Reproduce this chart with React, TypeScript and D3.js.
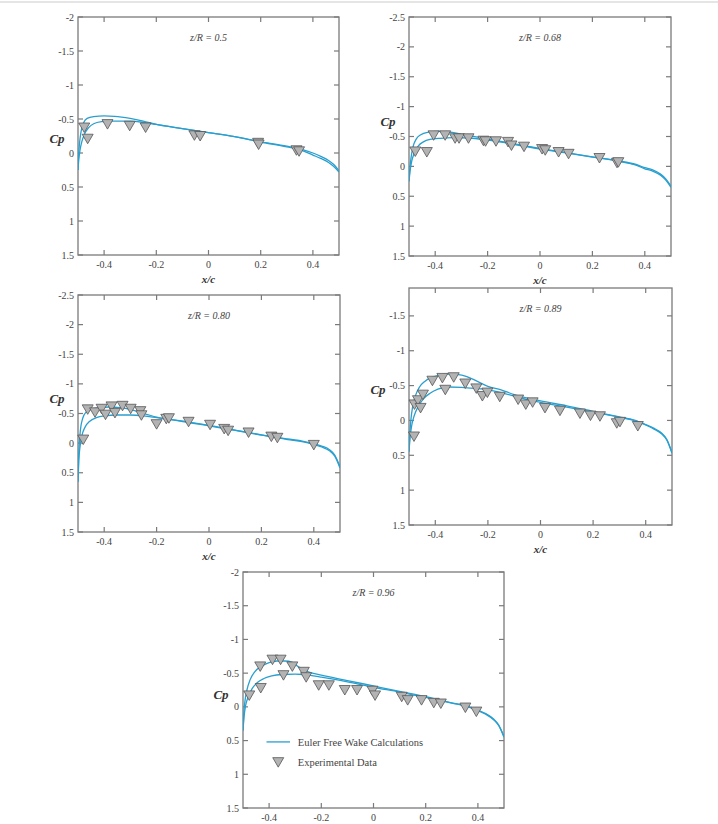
import React from "react";
import * as d3 from "d3";

// experimental points [x/c, Cp]
const exp050 = [
  [-0.476, -0.375], [-0.463, -0.21], [-0.387, -0.425], [-0.302, -0.4], [-0.241, -0.375],
  [-0.054, -0.26], [-0.032, -0.25], [0.19, -0.15], [0.192, -0.125], [0.337, -0.04], [0.347, -0.025],
];
const exp068 = [
  [-0.476, -0.25], [-0.432, -0.24], [-0.406, -0.52], [-0.362, -0.52], [-0.324, -0.47],
  [-0.309, -0.47], [-0.273, -0.47], [-0.216, -0.43], [-0.208, -0.42], [-0.168, -0.42],
  [-0.122, -0.41], [-0.109, -0.35], [-0.061, -0.33], [0.008, -0.29], [0.02, -0.27],
  [0.071, -0.24], [0.109, -0.21], [0.227, -0.14], [0.294, -0.06], [0.299, -0.07],
];
const exp080 = [
  [-0.48, -0.06], [-0.463, -0.57], [-0.435, -0.52], [-0.41, -0.58], [-0.395, -0.48],
  [-0.372, -0.62], [-0.359, -0.51], [-0.33, -0.63], [-0.299, -0.58], [-0.262, -0.54],
  [-0.258, -0.47], [-0.2, -0.32], [-0.163, -0.41], [-0.153, -0.42], [-0.078, -0.36],
  [0.004, -0.31], [0.058, -0.24], [0.073, -0.21], [0.151, -0.18], [0.238, -0.11],
  [0.261, -0.09], [0.4, 0.03],
];
const exp089 = [
  [-0.481, 0.23], [-0.479, -0.23], [-0.466, -0.29], [-0.456, -0.18], [-0.447, -0.37],
  [-0.411, -0.57], [-0.373, -0.61], [-0.362, -0.44], [-0.33, -0.62], [-0.286, -0.53],
  [-0.244, -0.46], [-0.221, -0.35], [-0.202, -0.4], [-0.155, -0.34], [-0.085, -0.3],
  [-0.056, -0.23], [-0.03, -0.26], [0.017, -0.18], [0.074, -0.14], [0.15, -0.1],
  [0.19, -0.07], [0.226, -0.06], [0.29, 0.04], [0.302, 0.02], [0.37, 0.08],
];
const exp096 = [
  [-0.476, -0.17], [-0.434, -0.6], [-0.432, -0.28], [-0.387, -0.7], [-0.356, -0.7],
  [-0.345, -0.47], [-0.311, -0.6], [-0.267, -0.52], [-0.258, -0.44], [-0.21, -0.32],
  [-0.171, -0.32], [-0.11, -0.25], [-0.063, -0.25], [-0.004, -0.24], [0.006, -0.17],
  [0.108, -0.15], [0.131, -0.1], [0.184, -0.1], [0.231, -0.06], [0.258, -0.05],
  [0.352, 0.01], [0.394, 0.07],
];

// Euler free wake calculations, upper / lower surface [x/c, Cp]
const upper050 = [
  [-0.5, 0.25], [-0.498, 0.05], [-0.494, -0.15], [-0.488, -0.32], [-0.478, -0.45], [-0.465, -0.51],
  [-0.44, -0.535], [-0.4, -0.545], [-0.36, -0.54], [-0.3, -0.51], [-0.25, -0.47], [-0.2, -0.42],
  [-0.1, -0.36], [0, -0.3], [0.1, -0.24], [0.2, -0.165], [0.3, -0.1], [0.36, -0.05], [0.4, 0.0],
  [0.43, 0.05], [0.46, 0.11], [0.48, 0.17], [0.5, 0.26],
];
const lower050 = [
  [-0.5, 0.25], [-0.497, 0.1], [-0.492, -0.05], [-0.485, -0.17], [-0.475, -0.28], [-0.46, -0.37],
  [-0.44, -0.43], [-0.41, -0.46], [-0.37, -0.47], [-0.3, -0.47], [-0.25, -0.45], [-0.2, -0.42],
  [-0.1, -0.36], [0, -0.3], [0.1, -0.24], [0.2, -0.16], [0.3, -0.09], [0.36, -0.035], [0.4, 0.03],
  [0.43, 0.08], [0.46, 0.14], [0.48, 0.2], [0.5, 0.28],
];
const upper068 = [
  [-0.5, 0.25], [-0.497, 0.05], [-0.492, -0.15], [-0.485, -0.32], [-0.472, -0.46], [-0.455, -0.53],
  [-0.43, -0.57], [-0.39, -0.585], [-0.35, -0.575], [-0.3, -0.54], [-0.2, -0.46], [-0.1, -0.38],
  [0, -0.3], [0.1, -0.23], [0.2, -0.16], [0.3, -0.09], [0.36, -0.04], [0.4, 0.02], [0.43, 0.06],
  [0.46, 0.13], [0.48, 0.21], [0.5, 0.33],
];
const lower068 = [
  [-0.5, 0.25], [-0.496, 0.08], [-0.49, -0.08], [-0.48, -0.22], [-0.465, -0.34], [-0.445, -0.41],
  [-0.42, -0.45], [-0.38, -0.47], [-0.33, -0.48], [-0.27, -0.475], [-0.2, -0.44], [-0.1, -0.37],
  [0, -0.29], [0.1, -0.225], [0.2, -0.155], [0.3, -0.085], [0.36, -0.03], [0.4, 0.04], [0.43, 0.08],
  [0.46, 0.15], [0.48, 0.23], [0.5, 0.35],
];
const upper080 = [
  [-0.5, 0.65], [-0.498, 0.3], [-0.495, 0.0], [-0.49, -0.25], [-0.482, -0.42], [-0.47, -0.52],
  [-0.45, -0.57], [-0.42, -0.6], [-0.38, -0.61], [-0.34, -0.6], [-0.3, -0.57], [-0.25, -0.5],
  [-0.2, -0.44], [-0.1, -0.37], [0, -0.3], [0.1, -0.22], [0.2, -0.14], [0.3, -0.07], [0.36, -0.03],
  [0.4, 0.01], [0.43, 0.05], [0.46, 0.11], [0.48, 0.2], [0.5, 0.4],
];
const lower080 = [
  [-0.5, 0.65], [-0.497, 0.3], [-0.492, 0.05], [-0.485, -0.13], [-0.473, -0.27], [-0.455, -0.37],
  [-0.43, -0.43], [-0.4, -0.46], [-0.35, -0.475], [-0.3, -0.475], [-0.25, -0.46], [-0.2, -0.43],
  [-0.1, -0.365], [0, -0.29], [0.1, -0.215], [0.2, -0.135], [0.3, -0.06], [0.36, -0.02], [0.4, 0.025],
  [0.43, 0.065], [0.46, 0.13], [0.48, 0.22], [0.5, 0.42],
];
const upper089 = [
  [-0.5, 0.45], [-0.497, 0.2], [-0.493, 0.0], [-0.486, -0.2], [-0.475, -0.36], [-0.46, -0.48],
  [-0.44, -0.56], [-0.41, -0.62], [-0.38, -0.655], [-0.35, -0.665], [-0.32, -0.66], [-0.28, -0.63],
  [-0.24, -0.56], [-0.2, -0.49], [-0.15, -0.44], [-0.1, -0.37], [-0.05, -0.32], [0, -0.28],
  [0.1, -0.21], [0.2, -0.13], [0.3, -0.05], [0.36, 0.0], [0.4, 0.06], [0.43, 0.11], [0.46, 0.18],
  [0.48, 0.27], [0.5, 0.46],
];
const lower089 = [
  [-0.5, 0.45], [-0.496, 0.25], [-0.49, 0.08], [-0.48, -0.07], [-0.465, -0.2], [-0.445, -0.31],
  [-0.42, -0.39], [-0.39, -0.45], [-0.35, -0.48], [-0.3, -0.475], [-0.25, -0.46], [-0.2, -0.44],
  [-0.15, -0.4], [-0.1, -0.35], [-0.05, -0.3], [0, -0.26], [0.1, -0.19], [0.2, -0.12],
  [0.3, -0.045], [0.36, 0.005], [0.4, 0.065], [0.43, 0.12], [0.46, 0.19], [0.48, 0.28], [0.5, 0.47],
];
const upper096 = [
  [-0.5, 0.35], [-0.497, 0.1], [-0.492, -0.1], [-0.485, -0.25], [-0.473, -0.4], [-0.455, -0.52],
  [-0.43, -0.6], [-0.4, -0.655], [-0.37, -0.68], [-0.34, -0.68], [-0.31, -0.66], [-0.29, -0.6],
  [-0.27, -0.55], [-0.25, -0.52], [-0.2, -0.47], [-0.1, -0.39], [0, -0.31], [0.1, -0.23],
  [0.2, -0.15], [0.3, -0.06], [0.36, -0.01], [0.4, 0.05], [0.43, 0.1], [0.46, 0.18], [0.48, 0.27],
  [0.5, 0.44],
];
const lower096 = [
  [-0.5, 0.35], [-0.496, 0.15], [-0.49, -0.02], [-0.48, -0.15], [-0.465, -0.27], [-0.445, -0.36],
  [-0.42, -0.42], [-0.39, -0.46], [-0.35, -0.48], [-0.3, -0.485], [-0.27, -0.48], [-0.25, -0.47],
  [-0.2, -0.44], [-0.1, -0.37], [0, -0.29], [0.1, -0.22], [0.2, -0.14], [0.3, -0.055],
  [0.36, -0.005], [0.4, 0.055], [0.43, 0.11], [0.46, 0.19], [0.48, 0.28], [0.5, 0.45],
];

const xTicks = [-0.4, -0.2, 0, 0.2, 0.4];
const yTicksA = [-2, -1.5, -1, -0.5, 0, 0.5, 1, 1.5];
const yTicksB = [-2.5, -2, -1.5, -1, -0.5, 0, 0.5, 1, 1.5];
const yTicksC = [-1.5, -1, -0.5, 0, 0.5, 1, 1.5];

const legendLabels = ["Euler Free Wake Calculations", "Experimental Data"];

const FONT = "'Liberation Serif', 'DejaVu Serif', serif";
const LINE = "#2a9fcf";
const AXIS = "#7a7a7a";
const TEXT = "#444";

type Pt = number[];

const panels = [
  { title: "z/R = 0.5", box: [78, 17, 339, 255], yDom: [-2, 1.5], yTicks: yTicksA, exp: exp050, up: upper050, lo: lower050, cp: [57, 138] },
  { title: "z/R = 0.68", box: [409, 17, 671, 256], yDom: [-2.5, 1.5], yTicks: yTicksB, exp: exp068, up: upper068, lo: lower068, cp: [388, 121] },
  { title: "z/R = 0.80", box: [78, 295, 340, 532], yDom: [-2.5, 1.5], yTicks: yTicksB, exp: exp080, up: upper080, lo: lower080, cp: [57, 398] },
  { title: "z/R = 0.89", box: [409, 288, 672, 525], yDom: [-1.9, 1.5], yTicks: yTicksC, exp: exp089, up: upper089, lo: lower089, cp: [378, 389] },
  { title: "z/R = 0.96", box: [243, 572, 504, 808], yDom: [-2, 1.5], yTicks: yTicksA, exp: exp096, up: upper096, lo: lower096, cp: [221, 694], legend: true },
];

const tri = (cx: number, cy: number) => `M${cx - 5.5},${cy - 4.5}L${cx + 5.5},${cy - 4.5}L${cx},${cy + 5}Z`;

function Panel({ p }: { p: any }) {
  const [l, t, r, b] = p.box;
  const x = d3.scaleLinear().domain([-0.5, 0.5]).range([l, r]);
  const y = d3.scaleLinear().domain(p.yDom).range([t, b]);
  const line = d3
    .line<Pt>()
    .x((d) => x(d[0]))
    .y((d) => y(d[1]))
    .curve(d3.curveMonotoneX);
  const tk = 5;
  return (
    <g fontFamily={FONT}>
      <defs>
        <clipPath id={`clip-${l}-${t}`}>
          <rect x={l} y={t} width={r - l} height={b - t} />
        </clipPath>
      </defs>
      <rect x={l} y={t} width={r - l} height={b - t} fill="none" stroke={AXIS} strokeWidth={1.3} />
      {xTicks.map((v) => (
        <g key={"x" + v}>
          <line x1={x(v)} x2={x(v)} y1={b} y2={b - tk} stroke={AXIS} strokeWidth={1.2} />
          <line x1={x(v)} x2={x(v)} y1={t} y2={t + tk} stroke={AXIS} strokeWidth={1.2} />
          <text x={x(v)} y={b + 13} fontSize={10} fill={TEXT} textAnchor="middle">
            {String(v)}
          </text>
        </g>
      ))}
      {p.yTicks.map((v: number) => (
        <g key={"y" + v}>
          <line x1={l} x2={l + tk} y1={y(v)} y2={y(v)} stroke={AXIS} strokeWidth={1.2} />
          <line x1={r} x2={r - tk} y1={y(v)} y2={y(v)} stroke={AXIS} strokeWidth={1.2} />
          <text x={l - 4} y={y(v)} dy="0.35em" fontSize={10} fill={TEXT} textAnchor="end">
            {String(v)}
          </text>
        </g>
      ))}
      <text x={(l + r) / 2} y={t + 24} fontSize={10} fontStyle="italic" fill={TEXT} textAnchor="middle">
        {p.title}
      </text>
      <g clipPath={`url(#clip-${l}-${t})`}>
        <path d={line(p.up) || ""} fill="none" stroke={LINE} strokeWidth={1.3} />
        <path d={line(p.lo) || ""} fill="none" stroke={LINE} strokeWidth={1.3} />
      </g>
      {p.exp.map((d: Pt, i: number) => (
        <path key={i} d={tri(x(d[0]), y(d[1]))} fill="#b3b3b3" stroke="#555" strokeWidth={0.8} />
      ))}
      <text
        x={p.cp[0]}
        y={p.cp[1]}
        fontSize={13}
        fontWeight="bold"
        fontStyle="italic"
        fill="#333"
        textAnchor="middle"
        dy="0.35em"
      >
        Cp
      </text>
      <text x={(l + r) / 2} y={b + 28} fontSize={11} fontWeight="bold" fontStyle="italic" fill="#333" textAnchor="middle">
        x/c
      </text>
      {p.legend && (
        <g>
          <line x1={x(-0.41)} x2={x(-0.32)} y1={y(0.52)} y2={y(0.52)} stroke={LINE} strokeWidth={1.3} />
          <text x={x(-0.29)} y={y(0.52)} dy="0.35em" fontSize={10.5} fill={TEXT}>
            {legendLabels[0]}
          </text>
          <path d={tri(x(-0.365), y(0.82))} fill="#b3b3b3" stroke="#555" strokeWidth={0.8} />
          <text x={x(-0.29)} y={y(0.82)} dy="0.35em" fontSize={10.5} fill={TEXT}>
            {legendLabels[1]}
          </text>
        </g>
      )}
    </g>
  );
}

export default function App() {
  return (
    <svg
      width={718}
      height={824}
      style={{ position: "absolute", left: 0, top: 0, background: "#fff" }}
    >
      <line x1={0} x2={718} y1={2} y2={2} stroke="#ddd" strokeWidth={1.5} />
      {panels.map((p, i) => (
        <Panel key={i} p={p} />
      ))}
    </svg>
  );
}
